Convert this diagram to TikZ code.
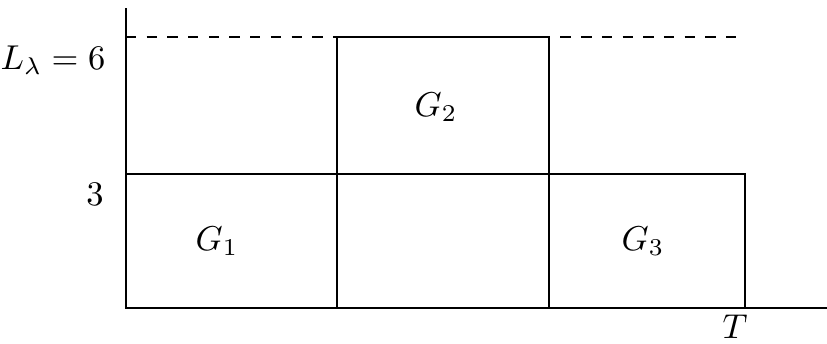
\documentclass[tikz,border=0pt]{standalone}
\begin{document}
\begin{tikzpicture}[x=0.29pt,y=-0.29pt,
  blk/.style={draw,line width=0.5pt},
  axis/.style={draw,line width=0.5pt},
  lbl/.style={inner sep=0pt}]
\useasboundingbox (0,0) rectangle (827,343);
% blocks
\draw[blk] (126,174) rectangle (337,308);
\draw[blk] (337,174) rectangle (549,308);
\draw[blk] (337,37) rectangle (549,174);
\draw[blk] (549,174) rectangle (745,308);
% dashed level
\draw[dashed,line width=0.5pt] (126,37) -- (745,37);
% axes
\draw[axis] (126,8) -- (126,308) -- (827,308);
% labels
\node[lbl] (g1) at (217,241) {$G_1$};
\node[lbl] (g2) at (436,107) {$G_2$};
\node[lbl] (g3) at (643,241) {$G_3$};
\node[lbl,anchor=east] (ll) at (106,60) {$L_\lambda=6$};
\node[lbl] (three) at (95,194) {$3$};
\node[lbl] (tt) at (735,327) {$T$};
\end{tikzpicture}
\end{document}
